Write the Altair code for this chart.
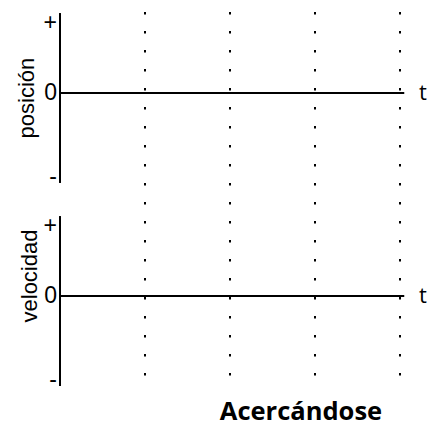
import altair as alt
import pandas as pd

# ---- data ----
panels = ["posición", "velocidad"]
panel_offsets = [0.0, -2.4167]          # vertical position of each panel's zero line
panel_title_t = [-0.306, -0.274]
panel_title_y = [-0.06, 0.238]
tick_labels = ["+", "0", "-"]
tick_values = [0.833, 0.0, -1.0]
axis_top = 0.952
axis_bottom = -1.071
time_lines = [1, 2, 3, 4]
t_end = 4.05
t_label = "t"
t_label_pos = 4.27
dots_top = 0.964
dots_bottom = -3.536
caption = "Acercándose"
caption_t = 2.835
caption_y = -3.895

xs = alt.Scale(domain=[-0.6118, 4.3294], nice=False, zero=False)
ys = alt.Scale(domain=[-3.976, 1.0119], nice=False, zero=False)

axes_df = pd.DataFrame({
    "panel": panels,
    "off": panel_offsets,
    "top": [o + axis_top for o in panel_offsets],
    "bot": [o + axis_bottom for o in panel_offsets],
    "x0": [0.0, 0.0],
    "x1": [t_end, t_end],
    "tl": [t_label_pos, t_label_pos],
    "lab": [t_label, t_label],
    "tt": panel_title_t,
    "ty": [o + v for o, v in zip(panel_offsets, panel_title_y)],
})

ticks_rows = []
for p, o in zip(panels, panel_offsets):
    for lab, v in zip(tick_labels, tick_values):
        ticks_rows.append({"panel": p, "lab": lab, "y": o + v, "x": 0.0})
ticks_df = pd.DataFrame(ticks_rows)

dots_df = pd.DataFrame({"t": time_lines,
                        "y1": [dots_top] * len(time_lines),
                        "y2": [dots_bottom] * len(time_lines)})

cap_df = pd.DataFrame({"lab": [caption], "t": [caption_t], "y": [caption_y]})

dots = alt.Chart(dots_df).mark_rule(
    color="black", strokeWidth=2, strokeDash=[2.5, 16.5]
).encode(
    x=alt.X("t:Q", scale=xs, axis=None),
    y=alt.Y("y1:Q", scale=ys, axis=None),
    y2="y2:Q",
)

vaxis = alt.Chart(axes_df).mark_rule(color="black", strokeWidth=2).encode(
    x=alt.X("x0:Q", scale=xs, axis=None),
    y=alt.Y("top:Q", scale=ys, axis=None),
    y2="bot:Q",
)

zero = alt.Chart(axes_df).mark_rule(color="black", strokeWidth=2).encode(
    x=alt.X("x0:Q", scale=xs, axis=None),
    x2="x1:Q",
    y=alt.Y("off:Q", scale=ys, axis=None),
)

tlab = alt.Chart(axes_df).mark_text(
    font="Open Sans", fontSize=22, align="center", baseline="middle", color="black"
).encode(
    x=alt.X("tl:Q", scale=xs, axis=None),
    y=alt.Y("off:Q", scale=ys, axis=None),
    text="lab:N",
)

ptitle = alt.Chart(axes_df).mark_text(
    font="Liberation Sans", fontSize=22, align="center", baseline="alphabetic",
    angle=270, color="black"
).encode(
    x=alt.X("tt:Q", scale=xs, axis=None),
    y=alt.Y("ty:Q", scale=ys, axis=None),
    text="panel:N",
)

ticks = alt.Chart(ticks_df).mark_text(
    font="Liberation Sans", fontSize=23, align="right", baseline="middle",
    dx=-3, color="black"
).encode(
    x=alt.X("x:Q", scale=xs, axis=None),
    y=alt.Y("y:Q", scale=ys, axis=None),
    text="lab:N",
)

cap = alt.Chart(cap_df).mark_text(
    font="Open Sans", fontSize=25.5, fontWeight="bold", align="center",
    baseline="alphabetic", color="black"
).encode(
    x=alt.X("t:Q", scale=xs, axis=None),
    y=alt.Y("y:Q", scale=ys, axis=None),
    text="lab:N",
)

chart = alt.layer(dots, vaxis, zero, tlab, ptitle, ticks, cap).properties(
    width=420, height=419, padding=0,
    autosize=alt.AutoSizeParams(type="none"),
    background="white",
).configure_view(stroke=None)

chart.save("out.html", embed_options={"renderer": "svg", "actions": False})
